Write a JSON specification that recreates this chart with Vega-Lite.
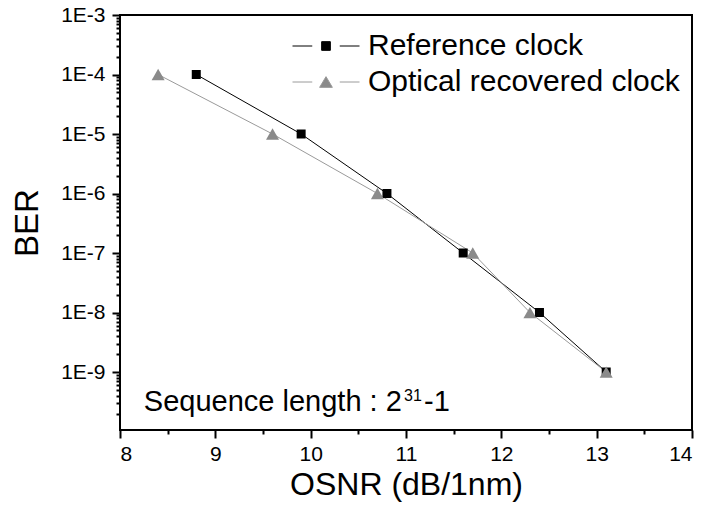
{
  "$schema": "https://vega.github.io/schema/vega-lite/v6.json",
  "width": 572,
  "height": 415,
  "autosize": {"type": "none"},
  "padding": {"left": 120, "top": 15, "right": 12, "bottom": 76},
  "background": "white",
  "config": {
    "font": "Liberation Sans",
    "view": {"stroke": "black", "strokeWidth": 2},
    "axis": {
      "labelFont": "Liberation Sans",
      "labelFontSize": 21,
      "labelColor": "black",
      "titleFont": "Liberation Sans",
      "titleFontWeight": "normal",
      "titleColor": "black",
      "grid": false,
      "domain": false,
      "tickColor": "black",
      "tickWidth": 2
    },
    "legend": {
      "orient": "none",
      "legendX": 172,
      "legendY": 15,
      "padding": 0,
      "labelFont": "Liberation Sans",
      "labelFontSize": 30,
      "labelColor": "black",
      "labelLimit": 500,
      "labelOffset": 8,
      "symbolSize": 4489,
      "symbolStrokeWidth": 1,
      "clipHeight": 32,
      "rowPadding": 4
    }
  },
  "data": {
    "values": [
      {"series": "Reference clock", "osnr": 8.8, "ber": 1e-4},
      {"series": "Reference clock", "osnr": 9.9, "ber": 1e-5},
      {"series": "Reference clock", "osnr": 10.8, "ber": 1e-6},
      {"series": "Reference clock", "osnr": 11.6, "ber": 1e-7},
      {"series": "Reference clock", "osnr": 12.4, "ber": 1e-8},
      {"series": "Reference clock", "osnr": 13.1, "ber": 1e-9},
      {"series": "Optical recovered clock", "osnr": 8.4, "ber": 1e-4},
      {"series": "Optical recovered clock", "osnr": 9.6, "ber": 1e-5},
      {"series": "Optical recovered clock", "osnr": 10.7, "ber": 1e-6},
      {"series": "Optical recovered clock", "osnr": 11.7, "ber": 1e-7},
      {"series": "Optical recovered clock", "osnr": 12.3, "ber": 1e-8},
      {"series": "Optical recovered clock", "osnr": 13.1, "ber": 1e-9}
    ]
  },
  "encoding": {
    "x": {
      "field": "osnr",
      "type": "quantitative",
      "scale": {"domain": [8, 14], "nice": false, "zero": false},
      "axis": {
        "title": "OSNR (dB/1nm)",
        "titleFontSize": 32,
        "titlePadding": 5,
        "values": [8, 8.5, 9, 9.5, 10, 10.5, 11, 11.5, 12, 12.5, 13, 13.5, 14],
        "labelExpr": "datum.value % 1 === 0 ? format(datum.value, 'd') : ''",
        "labelPadding": 5,
        "tickSize": {"condition": {"test": "datum.value % 1 === 0", "value": 8}, "value": 4}
      }
    },
    "y": {
      "field": "ber",
      "type": "quantitative",
      "scale": {"type": "log", "domain": [1.06e-10, 1e-3], "nice": false},
      "axis": {
        "title": "BER",
        "titleFontSize": 33,
        "titlePadding": 16,
        "values": [2e-10, 3e-10, 4e-10, 5e-10, 6e-10, 7e-10, 8e-10, 9e-10,
                   1e-9, 2e-9, 3e-9, 4e-9, 5e-9, 6e-9, 7e-9, 8e-9, 9e-9,
                   1e-8, 2e-8, 3e-8, 4e-8, 5e-8, 6e-8, 7e-8, 8e-8, 9e-8,
                   1e-7, 2e-7, 3e-7, 4e-7, 5e-7, 6e-7, 7e-7, 8e-7, 9e-7,
                   1e-6, 2e-6, 3e-6, 4e-6, 5e-6, 6e-6, 7e-6, 8e-6, 9e-6,
                   1e-5, 2e-5, 3e-5, 4e-5, 5e-5, 6e-5, 7e-5, 8e-5, 9e-5,
                   1e-4, 2e-4, 3e-4, 4e-4, 5e-4, 6e-4, 7e-4, 8e-4, 9e-4, 1e-3],
        "labelExpr": "abs(log(datum.value)/LN10 - round(log(datum.value)/LN10)) < 0.001 ? '1E' + round(log(datum.value)/LN10) : ''",
        "labelPadding": 7,
        "tickSize": {"condition": {"test": "abs(log(datum.value)/LN10 - round(log(datum.value)/LN10)) < 0.001", "value": 8}, "value": 4}
      }
    }
  },
  "layer": [
    {
      "mark": {"type": "line", "strokeWidth": 1},
      "encoding": {
        "color": {
          "field": "series",
          "type": "nominal",
          "scale": {"domain": ["Reference clock", "Optical recovered clock"], "range": ["black", "#9a9a9a"]},
          "legend": {
            "title": null,
            "encode": {
              "symbols": {
                "update": {
                  "shape": {"signal": "datum.value === 'Reference clock' ? 'M-1,0H-0.41M0.41,0H1M-0.13,-0.13H0.13V0.13H-0.13Z' : 'M-1,0H-0.41M0.41,0H1M0,-0.16L0.19,0.16H-0.19Z'"},
                  "fill": {"signal": "datum.value === 'Reference clock' ? 'black' : '#8a8a8a'"},
                  "stroke": {"signal": "datum.value === 'Reference clock' ? 'black' : '#9a9a9a'"},
                  "fillOpacity": {"value": 1},
                  "opacity": {"value": 1}
                }
              }
            }
          }
        }
      }
    },
    {
      "transform": [{"filter": "datum.series === 'Reference clock'"}],
      "mark": {"type": "point", "shape": "square", "filled": true, "size": 81, "color": "black", "opacity": 1}
    },
    {
      "transform": [{"filter": "datum.series === 'Optical recovered clock'"}],
      "mark": {"type": "point", "shape": "triangle-up", "filled": true, "size": 169, "color": "#8a8a8a", "opacity": 1}
    },
    {
      "data": {"values": [
        {"osnr": 8.25, "ber": 2.25e-10, "label": "Sequence length : 2"},
        {"osnr": 11.189, "ber": 2.25e-10, "label": "-1"}
      ]},
      "mark": {"type": "text", "align": "left", "baseline": "alphabetic", "font": "Liberation Sans", "fontSize": 29, "color": "black"},
      "encoding": {"text": {"field": "label"}}
    },
    {
      "data": {"values": [
        {"osnr": 10.979, "ber": 2.25e-10, "label": "31"}
      ]},
      "mark": {"type": "text", "align": "left", "baseline": "alphabetic", "font": "Liberation Sans", "fontSize": 16, "dy": -10, "color": "black"},
      "encoding": {"text": {"field": "label"}}
    }
  ]
}
